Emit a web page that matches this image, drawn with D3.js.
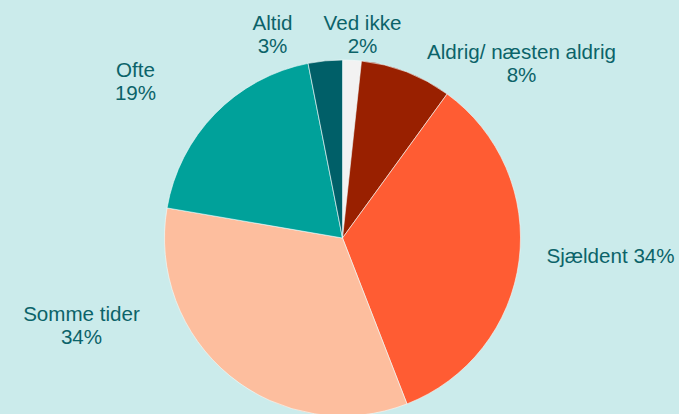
<!DOCTYPE html>
<html>
<head>
<meta charset="utf-8">
<script src="https://cdn.jsdelivr.net/npm/d3@7"></script>
<style>
  html, body { margin: 0; padding: 0; background: #cbebeb; }
  svg { display: block; }
  text { font-family: "Liberation Sans", Arial, sans-serif; fill: #0b6369; }
</style>
</head>
<body>
<svg width="679" height="414"></svg>
<script>
// slice data, clockwise from 12 o'clock
var categories = ["Ved ikke", "Aldrig/ næsten aldrig", "Sjældent", "Somme tider", "Ofte", "Altid"];
var values = [1.7, 8.3, 34.1, 33.6, 19.2, 3.1];
var colors = ["#f2f2f2", "#992000", "#ff5c33", "#fdbe9e", "#00a19a", "#005f68"];
// label anchors relative to pie centre (Excel "best fit" placement)
var labelAt = [[20, -208], [179, -179], [268, 25], [-261, 83], [-207, -161], [-70, -208]];
var oneLine = [false, false, true, false, false, false];

var svg = d3.select("svg"),
    width = 679,
    height = 414;

var cx = 342.5, cy = 238, radius = 178;

var pie = d3.pie().sort(null).value(d => d);
var arc = d3.arc().innerRadius(0).outerRadius(radius);

var g = svg.append("g").attr("transform", `translate(${cx},${cy})`);

var arcs = pie(values);

g.selectAll("path")
  .data(arcs)
  .join("path")
    .attr("d", arc)
    .attr("fill", (d, i) => colors[i])
    .attr("stroke", "#f4fbfb")
    .attr("stroke-width", 0.6);

var pct = d => Math.round(d) + "%";

var labels = g.selectAll("text.lbl")
  .data(arcs)
  .join("text")
    .attr("class", "lbl")
    .attr("text-anchor", "middle")
    .attr("font-size", 20.6)
    .attr("transform", (d, i) => `translate(${labelAt[i][0]},${labelAt[i][1]})`);

labels.each(function(d, i) {
  var t = d3.select(this);
  if (oneLine[i]) {
    t.append("tspan").attr("x", 0).attr("y", 0).text(categories[i] + " " + pct(d.data));
  } else {
    t.append("tspan").attr("x", 0).attr("y", 0).text(categories[i]);
    t.append("tspan").attr("x", 0).attr("y", 23).text(pct(d.data));
  }
});
</script>
</body>
</html>
